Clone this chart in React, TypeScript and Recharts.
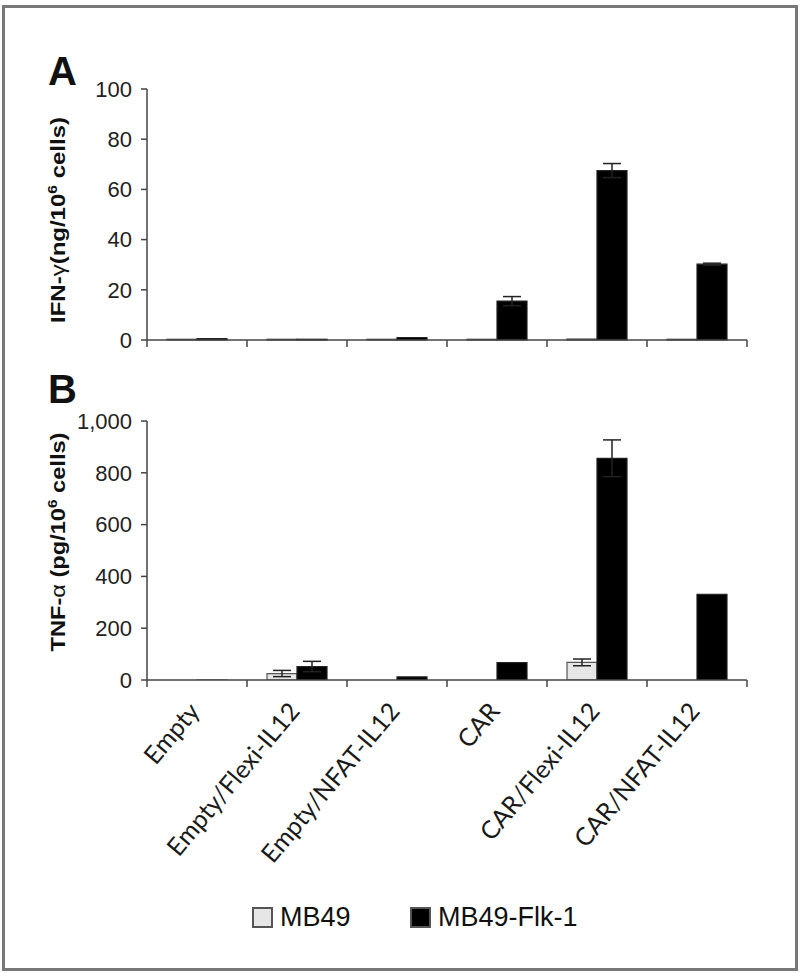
import { Bar, BarChart, ErrorBar, Legend, XAxis, YAxis } from "recharts";

const CATEGORIES = [
  "Empty",
  "Empty/Flexi-IL12",
  "Empty/NFAT-IL12",
  "CAR",
  "CAR/Flexi-IL12",
  "CAR/NFAT-IL12",
];
const SERIES = ["MB49", "MB49-Flk-1"];

// painel A: IFN-γ (ng/10^6 células)
const IFN_MB49 = [0.3, 0.3, 0.3, 0.3, 0.4, 0.3];
const IFN_MB49_ERR = [0, 0, 0, 0, 0, 0];
const IFN_FLK1 = [0.6, 0.3, 1.0, 15.5, 67.5, 30.2];
const IFN_FLK1_ERR = [0, 0, 0, 1.8, 2.8, 0.4];
const IFN_TICKS = [0, 20, 40, 60, 80, 100];

// painel B: TNF-α (pg/10^6 células)
const TNF_MB49 = [0, 25, 0, 0, 68, 0];
const TNF_MB49_ERR = [0, 12, 0, 0, 13, 0];
const TNF_FLK1 = [-8, 52, 12, 67, 856, 331];
const TNF_FLK1_ERR = [0, 20, 0, 0, 71, 0];
const TNF_TICKS = [0, 200, 400, 600, 800, 1000];

const dadosIfn = CATEGORIES.map((grupo, i) => ({
  grupo,
  mb49: IFN_MB49[i],
  mb49Err: IFN_MB49_ERR[i],
  flk1: IFN_FLK1[i],
  flk1Err: IFN_FLK1_ERR[i],
}));

const dadosTnf = CATEGORIES.map((grupo, i) => ({
  grupo,
  mb49: TNF_MB49[i],
  mb49Err: TNF_MB49_ERR[i],
  flk1: TNF_FLK1[i],
  flk1Err: TNF_FLK1_ERR[i],
}));

const LARGURA = 800;
const EIXO_Y = 147;
const MARGEM_DIR = 53;
const BANDA = (LARGURA - EIXO_Y - MARGEM_DIR) / CATEGORIES.length;
const COR_EIXO = "#444";
const COR_CLARA = "#e6e6e6";
const FONTE = "'Liberation Sans', Arial, Helvetica, sans-serif";

const tickY = { fill: "#222", fontSize: 22, fontFamily: FONTE };

function criaTickX(comRotulo: boolean) {
  return function TickX(props: any) {
    const { x, y, payload, index } = props;
    const meio = BANDA / 2;
    const tx = x + 4;
    const ty = y + 32;
    return (
      <g>
        <line x1={x - meio} x2={x - meio} y1={y} y2={y + 7} stroke={COR_EIXO} strokeWidth={1.5} />
        {index === CATEGORIES.length - 1 && (
          <line x1={x + meio} x2={x + meio} y1={y} y2={y + 7} stroke={COR_EIXO} strokeWidth={1.5} />
        )}
        {comRotulo && (
          <text
            x={tx}
            y={ty}
            transform={`rotate(-50 ${tx} ${ty})`}
            textAnchor="end"
            fill="#1a1a1a"
            fontSize={25}
            fontFamily="Lato, 'Open Sans', sans-serif"
          >
            {payload.value}
          </text>
        )}
      </g>
    );
  };
}

function TituloPainel({
  letra,
  letraY,
  grandeza,
  unidade,
  centroY,
  comprimento,
}: {
  letra: string;
  letraY: number;
  grandeza: [string, string];
  unidade: string;
  centroY: number;
  comprimento: number;
}) {
  const bx = 65;
  return (
    <g fontFamily={FONTE} fill="#111">
      <text x={48} y={letraY} fontSize={40} fontWeight="bold">
        {letra}
      </text>
      <text
        x={bx}
        y={centroY}
        transform={`rotate(-90 ${bx} ${centroY})`}
        textAnchor="middle"
        fontSize={20}
        fontWeight="bold"
        textLength={comprimento}
        lengthAdjust="spacingAndGlyphs"
      >
        {grandeza[0]}
        <tspan fontWeight="normal">{grandeza[1]}</tspan>
        {unidade}
        <tspan fontSize={13} dy={-8}>
          6
        </tspan>
        <tspan dy={8}> cells)</tspan>
      </text>
    </g>
  );
}

function LegendaSeries(props: any) {
  const posicoes = [252, 410];
  return (
    <div style={{ position: "relative", height: 30, width: LARGURA }}>
      {(props.payload ?? []).map((item: any, i: number) => (
        <div
          key={item.value}
          style={{
            position: "absolute",
            left: posicoes[i],
            top: 0,
            height: 30,
            display: "flex",
            alignItems: "center",
            fontFamily: FONTE,
            fontSize: 27,
            color: "#111",
          }}
        >
          <span
            style={{
              display: "inline-block",
              width: 17,
              height: 17,
              background: item.payload?.fill ?? item.color,
              border: "2px solid #555",
              marginRight: 7,
            }}
          />
          {item.value}
        </div>
      ))}
    </div>
  );
}

function Series({ comLegenda }: { comLegenda?: boolean }) {
  return [
    <Bar
      key="mb49"
      dataKey="mb49"
      name={SERIES[0]}
      fill={COR_CLARA}
      stroke="#555"
      strokeWidth={1.2}
      isAnimationActive={false}
      legendType={comLegenda ? "square" : "none"}
    >
      <ErrorBar dataKey="mb49Err" width={9} stroke="#222" strokeWidth={1.5} direction="y" />
    </Bar>,
    <Bar
      key="flk1"
      dataKey="flk1"
      name={SERIES[1]}
      fill="#000"
      stroke="#222"
      strokeWidth={1.2}
      isAnimationActive={false}
      legendType={comLegenda ? "square" : "none"}
    >
      <ErrorBar dataKey="flk1Err" width={9} stroke="#222" strokeWidth={1.5} direction="y" />
    </Bar>,
  ];
}

export default function App() {
  return (
    <div
      style={{
        position: "absolute",
        left: 0,
        top: 0,
        width: LARGURA,
        height: 974,
        background: "#fff",
      }}
    >
      <div
        style={{
          position: "absolute",
          left: 2,
          top: 5,
          width: 796,
          height: 966,
          border: "3px solid #777",
          boxSizing: "border-box",
        }}
      />

      <div style={{ position: "absolute", left: 0, top: 0 }}>
        <BarChart
          width={LARGURA}
          height={360}
          data={dadosIfn}
          margin={{ top: 89, right: MARGEM_DIR, bottom: 0, left: 0 }}
          barSize={30}
          barGap={0}
        >
          <YAxis
            width={EIXO_Y}
            domain={[0, 100]}
            ticks={IFN_TICKS}
            tick={tickY}
            tickSize={6}
            tickMargin={9}
            axisLine={{ stroke: COR_EIXO, strokeWidth: 1.5 }}
            tickLine={{ stroke: COR_EIXO, strokeWidth: 1.5 }}
            label={
              <TituloPainel
                letra="A"
                letraY={85}
                grandeza={["IFN-", "γ"]}
                unidade="(ng/10"
                centroY={220}
                comprimento={206}
              />
            }
          />
          <XAxis
            dataKey="grupo"
            height={20}
            interval={0}
            tickSize={0}
            tickMargin={0}
            tickLine={false}
            axisLine={{ stroke: COR_EIXO, strokeWidth: 1.5 }}
            tick={criaTickX(false)}
          />
          {Series({})}
        </BarChart>
      </div>

      <div style={{ position: "absolute", left: 0, top: 360 }}>
        <BarChart
          width={LARGURA}
          height={614}
          data={dadosTnf}
          margin={{ top: 61, right: MARGEM_DIR, bottom: 42, left: 0 }}
          barSize={30}
          barGap={0}
        >
          <YAxis
            width={EIXO_Y}
            domain={[0, 1000]}
            allowDataOverflow
            ticks={TNF_TICKS}
            tickFormatter={(v: number) => v.toLocaleString("en-US")}
            tick={tickY}
            tickSize={6}
            tickMargin={9}
            axisLine={{ stroke: COR_EIXO, strokeWidth: 1.5 }}
            tickLine={{ stroke: COR_EIXO, strokeWidth: 1.5 }}
            label={
              <TituloPainel
                letra="B"
                letraY={43}
                grandeza={["TNF-", "α "]}
                unidade="(pg/10"
                centroY={182}
                comprimento={219}
              />
            }
          />
          <XAxis
            dataKey="grupo"
            height={222}
            interval={0}
            tickSize={0}
            tickMargin={0}
            tickLine={false}
            axisLine={{ stroke: COR_EIXO, strokeWidth: 1.5 }}
            tick={criaTickX(true)}
          />
          <Legend
            verticalAlign="bottom"
            height={30}
            wrapperStyle={{ left: 0, width: LARGURA, height: 30 }}
            content={LegendaSeries}
          />
          {Series({ comLegenda: true })}
        </BarChart>
      </div>
    </div>
  );
}
